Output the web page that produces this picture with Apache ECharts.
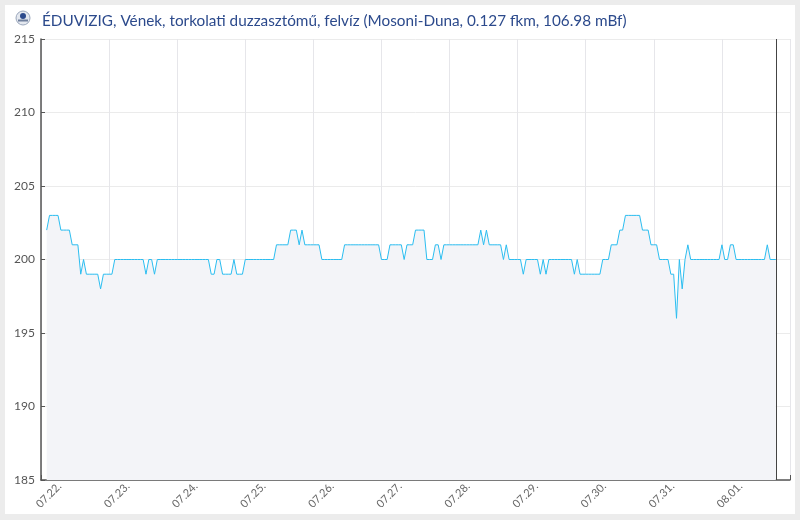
<!DOCTYPE html>
<html lang="hu">
<head>
<meta charset="UTF-8">
<meta name="viewport" content="width=device-width, initial-scale=1.0">
<script src="https://cdn.jsdelivr.net/npm/echarts@6/dist/echarts.min.js"></script>
<title>Vének, torkolati duzzasztómű, felvíz</title>
<style>
  html, body { margin: 0; padding: 0; background: #ececec; }
  #chart { position: absolute; left: 5px; top: 5px; width: 790px; height: 509px; background: #fff; }
</style>
</head>
<body>
<div id="chart"></div>
<script>
  // hourly water levels, one row per day (00:00 ... 23:00), null = no reading
  const day0722 = [null, null, 202, 203, 203, 203, 203, 202, 202, 202, 202, 201, 201, 201, 199, 200, 199, 199, 199, 199, 199, 198, 199, 199];
  const day0723 = [199, 199, 200, 200, 200, 200, 200, 200, 200, 200, 200, 200, 200, 199, 200, 200, 199, 200, 200, 200, 200, 200, 200, 200];
  const day0724 = [200, 200, 200, 200, 200, 200, 200, 200, 200, 200, 200, 200, 199, 199, 200, 200, 199, 199, 199, 199, 200, 199, 199, 199];
  const day0725 = [200, 200, 200, 200, 200, 200, 200, 200, 200, 200, 200, 201, 201, 201, 201, 201, 202, 202, 202, 201, 202, 201, 201, 201];
  const day0726 = [201, 201, 201, 200, 200, 200, 200, 200, 200, 200, 200, 201, 201, 201, 201, 201, 201, 201, 201, 201, 201, 201, 201, 201];
  const day0727 = [200, 200, 200, 201, 201, 201, 201, 201, 200, 201, 201, 201, 202, 202, 202, 202, 200, 200, 200, 201, 201, 200, 201, 201];
  const day0728 = [201, 201, 201, 201, 201, 201, 201, 201, 201, 201, 201, 202, 201, 202, 201, 201, 201, 201, 201, 200, 201, 200, 200, 200];
  const day0729 = [200, 200, 199, 200, 200, 200, 200, 200, 199, 200, 199, 200, 200, 200, 200, 200, 200, 200, 200, 200, 199, 200, 199, 199];
  const day0730 = [199, 199, 199, 199, 199, 199, 200, 200, 200, 201, 201, 201, 202, 202, 203, 203, 203, 203, 203, 203, 202, 202, 202, 201];
  const day0731 = [201, 201, 200, 200, 200, 200, 199, 199, 196, 200, 198, 200, 201, 200, 200, 200, 200, 200, 200, 200, 200, 200, 200, 200];
  const day0801 = [201, 200, 200, 201, 201, 200, 200, 200, 200, 200, 200, 200, 200, 200, 200, 200, 201, 200, 200, 200, null, null, null, null];

  const dayRows = [day0722, day0723, day0724, day0725, day0726, day0727, day0728, day0729, day0730, day0731, day0801];
  const firstDay = [2024, 6, 22];   // year, month index, day
  const yTicks = [185, 190, 195, 200, 205, 210, 215];
  const titleText = 'ÉDUVIZIG, Vének, torkolati duzzasztómű, felvíz (Mosoni-Duna, 0.127 fkm, 106.98 mBf)';

  const HOUR = 3600 * 1000;
  const DAY = 24 * HOUR;
  const axisStart = new Date(firstDay[0], firstDay[1], firstDay[2]).getTime();
  const axisEnd = new Date(firstDay[0], firstDay[1], firstDay[2] + dayRows.length).getTime();

  const seriesData = [];
  let lastTime = axisStart;
  dayRows.forEach((row, d) => {
    row.forEach((v, h) => {
      if (v === null) return;
      const t = new Date(firstDay[0], firstDay[1], firstDay[2] + d, h).getTime();
      seriesData.push([t, v]);
      lastTime = t;
    });
  });

  function pad(n) { return (n < 10 ? '0' : '') + n; }

  const chart = echarts.init(document.getElementById('chart'));

  const option = {
    animation: false,
    textStyle: { fontFamily: 'Lato' },
    title: {
      text: titleText,
      left: 32,
      top: 4,
      textStyle: { fontFamily: 'Lato', fontSize: 15.3, fontWeight: 'normal', color: '#2c4a8c' }
    },
    graphic: [
      { type: 'circle', shape: { cx: 18, cy: 13, r: 7 }, style: { fill: '#e4e8ef', stroke: '#9aa6bb', lineWidth: 1 } },
      { type: 'circle', shape: { cx: 18, cy: 11, r: 3 }, style: { fill: '#2c4a8c' } },
      { type: 'rect', shape: { x: 13, y: 14.5, width: 10, height: 2 }, style: { fill: '#6f7f9c' } }
    ],
    grid: { left: 36, top: 34, right: 5, bottom: 34, outerBoundsMode: 'none' },
    xAxis: {
      type: 'time',
      min: axisStart,
      max: axisEnd,
      minInterval: DAY,
      maxInterval: DAY,
      axisLine: { lineStyle: { color: '#555', width: 1.5 } },
      axisTick: { inside: true, length: 5, lineStyle: { color: '#555' } },
      splitLine: { show: true, lineStyle: { color: '#e6e6ea' } },
      axisLabel: {
        rotate: 45,
        align: 'center',
        verticalAlign: 'middle',
        margin: 23,
        padding: [0, 0, 0, 22],
        fontSize: 11,
        color: '#666',
        formatter: (v) => {
          if (v >= axisEnd) return '';
          const d = new Date(v);
          return pad(d.getMonth() + 1) + '.' + pad(d.getDate()) + '.';
        }
      }
    },
    yAxis: {
      type: 'value',
      min: yTicks[0],
      max: yTicks[yTicks.length - 1],
      interval: 5,
      axisLine: { show: true, lineStyle: { color: '#555', width: 1.5 } },
      axisTick: { show: true, inside: true, length: 4, lineStyle: { color: '#555' } },
      splitLine: { lineStyle: { color: '#ebebeb' } },
      axisLabel: { fontSize: 12, color: '#555', margin: 6 }
    },
    series: [
      {
        name: 'felvíz',
        type: 'line',
        data: seriesData,
        showSymbol: false,
        lineStyle: { color: '#2bbdf0', width: 1 },
        itemStyle: { color: '#2bbdf0' },
        areaStyle: { color: '#f3f4f8', opacity: 1, origin: 'start' },
        markLine: {
          silent: true,
          symbol: 'none',
          label: { show: false },
          lineStyle: { color: '#444', type: 'solid', width: 1 },
          data: [{ xAxis: lastTime }]
        }
      }
    ]
  };

  chart.setOption(option);
</script>
</body>
</html>
